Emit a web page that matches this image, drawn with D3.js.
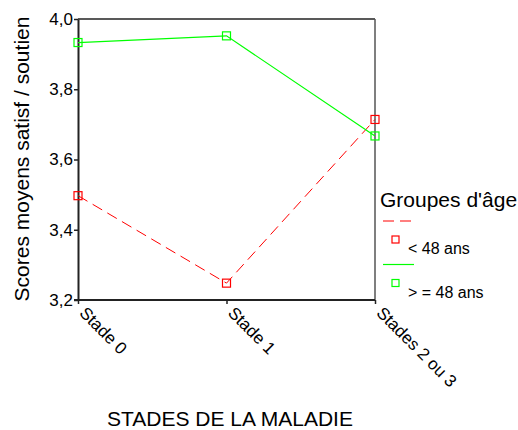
<!DOCTYPE html>
<html><head><meta charset="utf-8">
<script src="https://cdn.jsdelivr.net/npm/d3@7"></script>
<style>body{margin:0;background:#fff}svg{font-family:Arial,"Liberation Sans",sans-serif}</style>
</head><body>
<script>
const categories = ["Stade 0", "Stade 1", "Stades 2 ou 3"];
const under48 = [3.497, 3.248, 3.714];
const over48 = [3.933, 3.952, 3.667];
const yTicks = [3.2, 3.4, 3.6, 3.8, 4.0];
const seriesNames = ["< 48 ans", "> = 48 ans"];

const W = 518, H = 430;
const m = {l: 78, r: 375, t: 19, b: 300};
const svg = d3.select("body").append("svg").attr("width", W).attr("height", H);
const x = d3.scalePoint().domain(categories).range([m.l, m.r]);
const y = d3.scaleLinear().domain([3.2, 4.0]).range([m.b, m.t]);
const fmt = d => d3.format(".1f")(d).replace(".", ",");
const FONT = "Arial,Liberation Sans,sans-serif";

// frame top/right
svg.append("line").attr("x1", m.l).attr("x2", m.r).attr("y1", m.t).attr("y2", m.t).attr("stroke", "#222").attr("stroke-width", 1.5);
svg.append("line").attr("x1", m.r).attr("x2", m.r).attr("y1", m.t).attr("y2", m.b).attr("stroke", "#555").attr("stroke-width", 1.5);

const ya = svg.append("g").attr("transform", `translate(${m.l},0)`)
  .call(d3.axisLeft(y).tickValues(yTicks).tickFormat(fmt).tickSize(4).tickSizeOuter(0));
ya.select(".domain").attr("stroke", "#222").attr("stroke-width", 2);
ya.selectAll(".tick line").attr("stroke", "#222").attr("stroke-width", 1.5);
ya.selectAll("text").attr("font-size", 17).attr("fill", "#000").attr("font-family", FONT).attr("x", -5);

const xa = svg.append("g").attr("transform", `translate(0,${m.b})`)
  .call(d3.axisBottom(x).tickSize(4).tickSizeOuter(0));
xa.select(".domain").attr("stroke", "#222").attr("stroke-width", 2).attr("d", `M${m.l - 4},0H${m.r}`);
xa.selectAll(".tick line").attr("stroke", "#222").attr("stroke-width", 1.5);
xa.selectAll("text").attr("font-size", 17).attr("fill", "#000").attr("font-family", FONT)
  .attr("text-anchor", "start").attr("dy", null).attr("y", 0)
  .attr("transform", "translate(0,14) rotate(45)");

const line = d3.line().x((d, i) => x(categories[i])).y(d => y(d));
svg.append("path").datum(under48).attr("d", line).attr("fill", "none").attr("stroke", "#ff0000").attr("stroke-width", 1).attr("stroke-dasharray", "11,6");
svg.append("path").datum(over48).attr("d", line).attr("fill", "none").attr("stroke", "#00ff00").attr("stroke-width", 1.2);

function markers(data, color) {
  svg.append("g").selectAll("rect").data(data).join("rect")
    .attr("x", (d, i) => x(categories[i]) - 4).attr("y", d => y(d) - 4)
    .attr("width", 8).attr("height", 8).attr("fill", "none").attr("stroke", color).attr("stroke-width", 1.2);
}
markers(under48, "#ff0000");
markers(over48, "#00ff00");

svg.append("text").attr("transform", "translate(29,159) rotate(-90)").attr("text-anchor", "middle")
  .attr("font-size", 21).attr("font-family", FONT).text("Scores moyens satisf / soutien");
svg.append("text").attr("x", 230).attr("y", 426).attr("text-anchor", "middle").attr("font-size", 21).attr("font-family", FONT).text("STADES DE LA MALADIE");

// legend
const lg = svg.append("g");
lg.append("text").attr("x", 380).attr("y", 207).attr("font-size", 21).attr("font-family", FONT).text("Groupes d'âge");
const colors = ["#ff0000", "#00ff00"];
const dash = ["11,6", null];
seriesNames.forEach((n, i) => {
  const y0 = 221 + i * 43.5;
  lg.append("line").attr("x1", 383).attr("x2", 414).attr("y1", y0).attr("y2", y0).attr("stroke", colors[i]).attr("stroke-width", 1.2).attr("stroke-dasharray", dash[i]);
  lg.append("rect").attr("x", 392).attr("y", y0 + 15).attr("width", 7).attr("height", 7).attr("fill", "none").attr("stroke", colors[i]).attr("stroke-width", 1.2);
  lg.append("text").attr("x", 408).attr("y", y0 + 33).attr("font-size", 16).attr("font-family", FONT).text(n);
});
</script>
</body></html>
